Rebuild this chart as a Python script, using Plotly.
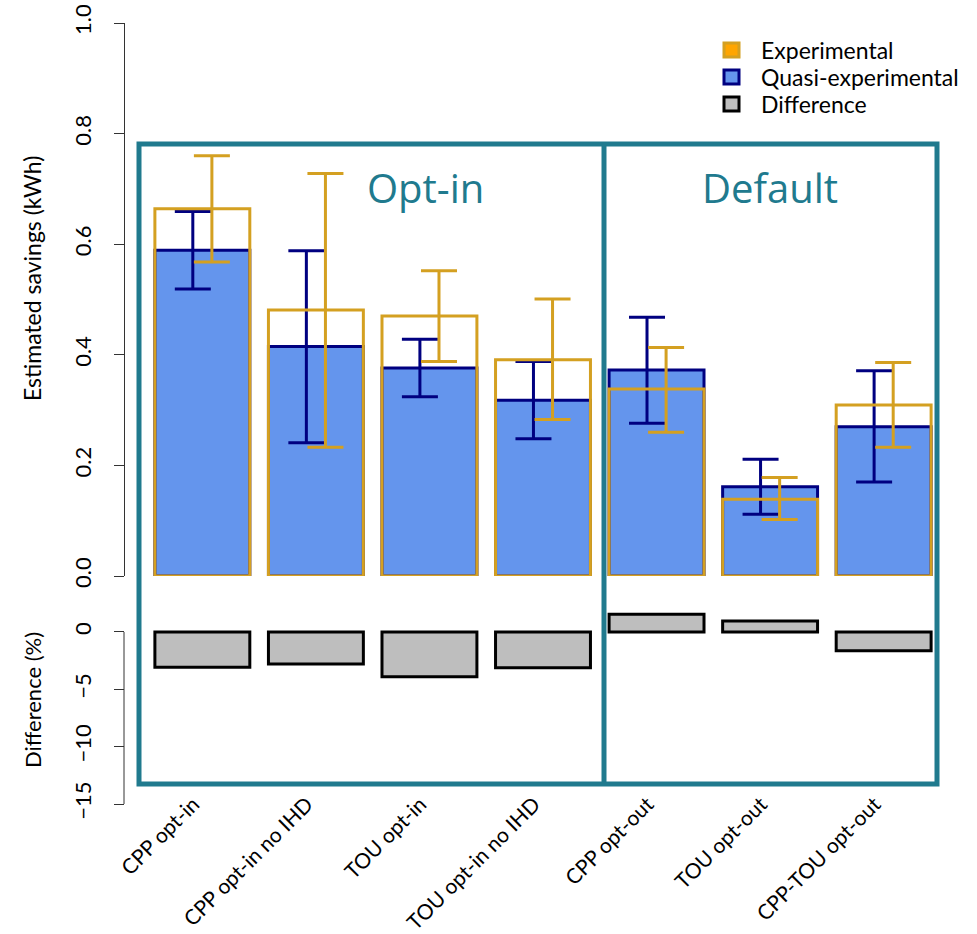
import plotly.graph_objects as go

categories = ["CPP opt-in", "CPP opt-in no IHD", "TOU opt-in", "TOU opt-in no IHD",
              "CPP opt-out", "TOU opt-out", "CPP-TOU opt-out"]
exp_vals = [0.664, 0.481, 0.470, 0.391, 0.338, 0.139, 0.309]
exp_lo = [0.568, 0.233, 0.388, 0.283, 0.260, 0.102, 0.233]
exp_hi = [0.760, 0.728, 0.552, 0.501, 0.413, 0.178, 0.386]
quasi_vals = [0.589, 0.415, 0.376, 0.318, 0.3725, 0.1615, 0.270]
quasi_lo = [0.519, 0.241, 0.324, 0.248, 0.276, 0.1115, 0.170]
quasi_hi = [0.659, 0.588, 0.428, 0.388, 0.468, 0.211, 0.371]
diff_pct = [-3.08, -2.79, -3.90, -3.11, 1.54, 0.96, -1.63]

legend_names = ["Experimental", "Quasi-experimental", "Difference"]

GOLD = "#D4A021"
NAVY = "#000080"
BLUE = "#6495ED"
TEAL = "#207A8E"
GREY = "#BEBEBE"
ORANGE = "#FFA500"
FONT = "Lato"

idx = list(range(len(categories)))
W = 0.836
OFF = 0.084

fig = go.Figure()

fig.add_trace(go.Bar(x=idx, y=quasi_vals, width=W, name=legend_names[1],
                     marker=dict(color=BLUE, line=dict(color=NAVY, width=3)),
                     showlegend=False, xaxis="x", yaxis="y"))
fig.add_trace(go.Bar(x=[i - OFF for i in idx], y=quasi_vals, width=0.001,
                     marker=dict(color="rgba(0,0,0,0)", line=dict(width=0)),
                     error_y=dict(type="data", symmetric=False,
                                  array=[h - v for h, v in zip(quasi_hi, quasi_vals)],
                                  arrayminus=[v - l for v, l in zip(quasi_vals, quasi_lo)],
                                  color=NAVY, thickness=3, width=18),
                     showlegend=False, xaxis="x", yaxis="y"))
fig.add_trace(go.Bar(x=idx, y=exp_vals, width=W, name=legend_names[0],
                     marker=dict(color="rgba(0,0,0,0)", line=dict(color=GOLD, width=3)),
                     showlegend=False, xaxis="x", yaxis="y"))
fig.add_trace(go.Bar(x=[i + OFF for i in idx], y=exp_vals, width=0.001,
                     marker=dict(color="rgba(0,0,0,0)", line=dict(width=0)),
                     error_y=dict(type="data", symmetric=False,
                                  array=[h - v for h, v in zip(exp_hi, exp_vals)],
                                  arrayminus=[v - l for v, l in zip(exp_vals, exp_lo)],
                                  color=GOLD, thickness=3, width=18),
                     showlegend=False, xaxis="x", yaxis="y"))
fig.add_trace(go.Bar(x=idx, y=diff_pct, width=W, name=legend_names[2],
                     marker=dict(color=GREY, line=dict(color="black", width=3)),
                     showlegend=False, xaxis="x", yaxis="y2"))

def px(p):
    return (p - 124) / 838.0

def py(p):
    return (804 - p) / 781.0

split = py(576)

fig.update_layout(
    width=977, height=934,
    margin=dict(l=124, r=15, t=23, b=130, autoexpand=False),
    paper_bgcolor="white", plot_bgcolor="white",
    barmode="overlay",
    showlegend=False,
    font=dict(family=FONT, size=22, color="black"),
    xaxis=dict(domain=[0, 1], anchor="free", position=py(787), range=[-0.69, 6.69],
               tickmode="array", tickvals=idx, ticktext=categories, tickangle=-45,
               showline=False, showgrid=False, zeroline=False, ticks="",
               tickfont=dict(size=21), automargin=False, ticklabelshift=-9),
    yaxis=dict(domain=[split, 1], anchor="free", position=0, range=[0, 1],
               tickvals=[0, 0.2, 0.4, 0.6, 0.8, 1.0], tickformat=".1f", tickangle=-90,
               showline=True, linecolor="#333", linewidth=1, ticks="outside", ticklen=10,
               tickcolor="#333", showgrid=False, zeroline=False, tickfont=dict(size=22),
               ticklabelstandoff=14, automargin=False),
    yaxis2=dict(domain=[0, split], anchor="free", position=0, range=[-15, 4.88],
                tickvals=[0, -5, -10, -15], tickangle=-90,
                showline=False, ticks="outside", ticklen=10, tickcolor="#333",
                showgrid=False, zeroline=False, tickfont=dict(size=22),
                ticklabelstandoff=14, automargin=False),
)

shapes = [
    dict(type="line", xref="paper", yref="y2", x0=0, x1=0, y0=0, y1=-15,
         line=dict(color="#333", width=1)),
    dict(type="rect", xref="paper", yref="paper", x0=px(139), x1=px(937), y0=py(784), y1=py(144),
         line=dict(color=TEAL, width=5), fillcolor="rgba(0,0,0,0)", layer="below"),
    dict(type="line", xref="paper", yref="paper", x0=px(604), x1=px(604), y0=py(784), y1=py(144),
         line=dict(color=TEAL, width=5), layer="below"),
]

annotations = [
    dict(text="Opt-in", xref="paper", yref="paper", x=px(425), y=py(187), showarrow=False,
         font=dict(family="Open Sans", size=40, color=TEAL), xanchor="center", yanchor="middle"),
    dict(text="Default", xref="paper", yref="paper", x=px(770), y=py(187), showarrow=False,
         font=dict(family="Open Sans", size=40, color=TEAL), xanchor="center", yanchor="middle"),
    dict(text="Estimated savings (kWh)", xref="paper", yref="paper", x=px(32), y=py(279),
         textangle=-90, showarrow=False, font=dict(size=23), xanchor="center", yanchor="middle"),
    dict(text="Difference (%)", xref="paper", yref="paper", x=px(32), y=py(700),
         textangle=-90, showarrow=False, font=dict(size=22), xanchor="center", yanchor="middle"),
]

legend_fill = [ORANGE, BLUE, GREY]
legend_edge = [GOLD, NAVY, "black"]
rows = [50, 77, 104]
for name, fc, ec, r in zip(legend_names, legend_fill, legend_edge, rows):
    shapes.append(dict(type="rect", xref="paper", yref="paper",
                       x0=px(724), x1=px(739), y0=py(r + 7), y1=py(r - 7),
                       line=dict(color=ec, width=3), fillcolor=fc))
    annotations.append(dict(text=name, xref="paper", yref="paper", x=px(759), y=py(r),
                            showarrow=False, font=dict(size=23), xanchor="left", yanchor="middle"))

fig.update_layout(shapes=shapes, annotations=annotations)

fig.write_html("out.html")
